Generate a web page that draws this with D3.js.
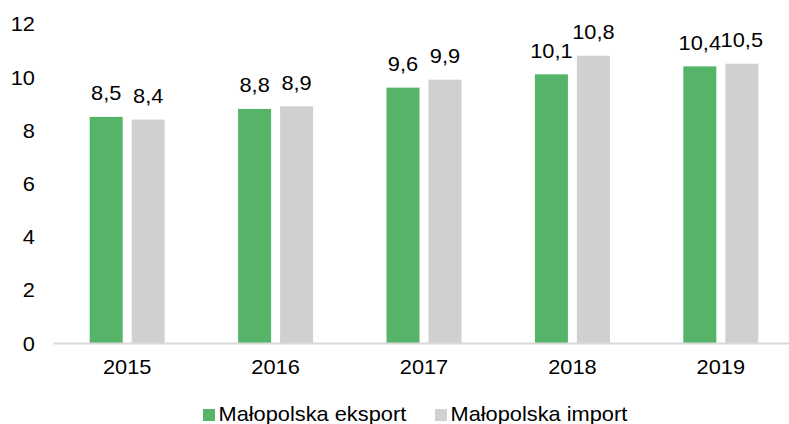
<!DOCTYPE html>
<html>
<head>
<meta charset="utf-8">
<script src="https://cdn.jsdelivr.net/npm/d3@7"></script>
<style>
  html, body { margin: 0; padding: 0; background: #fff; }
  svg { display: block; font-family: Arial, "Liberation Sans", sans-serif; }
</style>
</head>
<body>
<svg id="chart" width="789" height="424"></svg>
<script>
const categories = ["2015", "2016", "2017", "2018", "2019"];
const seriesNames = ["Małopolska eksport", "Małopolska import"];
const eksport = [8.5, 8.8, 9.6, 10.1, 10.4];
const importV = [8.4, 8.9, 9.9, 10.8, 10.5];
const yTicks = [0, 2, 4, 6, 8, 10, 12];
const colors = ["#55B467", "#D0D0D0"];

const FS = 20;
const SX = 1.09;
const FF = "Arial, 'Liberation Sans', sans-serif";
const svg = d3.select("#chart");
const x0 = d3.scaleBand().domain(categories).range([53, 795]).paddingInner(0).paddingOuter(0);
const x1 = d3.scaleBand().domain(seriesNames).range([0, x0.bandwidth()]).paddingInner(0.214).paddingOuter(0.874);
const y = d3.scaleLinear().domain([0, 12]).range([343, 23.8]);

const fmt = v => String(v.toFixed(1)).replace(".", ",");

// Y axis
const yAxis = d3.axisLeft(y).tickValues(yTicks).tickSize(0).tickPadding(0).tickFormat(d => d);
const gy = svg.append("g").attr("transform", "translate(35,0)").call(yAxis);
gy.select(".domain").remove();
gy.attr("font-size", FS).attr("font-family", FF);
gy.selectAll("text").attr("fill", "#000").attr("dy", "0.35em").attr("transform", `scale(${SX},1)`);

// Bars
const data = categories.map((c, i) => ({ cat: c, vals: [eksport[i], importV[i]] }));
const groups = svg.append("g").selectAll("g").data(data).join("g")
  .attr("transform", d => `translate(${x0(d.cat)},0)`);
groups.selectAll("rect").data(d => d.vals.map((v, j) => ({ v, s: seriesNames[j], j })))
  .join("rect")
  .attr("x", d => x1(d.s))
  .attr("width", x1.bandwidth())
  .attr("y", d => y(d.v))
  .attr("height", d => y(0) - y(d.v))
  .attr("fill", d => colors[d.j]);
groups.selectAll("text.lbl").data(d => d.vals.map((v, j) => ({ v, s: seriesNames[j], j })))
  .join("text").attr("class", "lbl")
  .attr("transform", d => `translate(${x1(d.s) + x1.bandwidth() / 2},${y(d.v) - 16.5}) scale(${SX},1)`)
  .attr("text-anchor", "middle")
  .attr("font-size", FS)
  .attr("fill", "#000")
  .text(d => fmt(d.v));

// X axis
const xAxis = d3.axisBottom(x0).tickSize(0).tickPadding(17);
const gx = svg.append("g").attr("transform", `translate(0,${y(0)})`).call(xAxis);
gx.select(".domain").attr("stroke", "#D9D9D9").attr("stroke-width", 2);
gx.attr("font-size", FS).attr("font-family", FF);
gx.selectAll("text").attr("fill", "#000").attr("transform", `scale(${SX},1)`);

// Legend
const legendX = [203, 435];
const leg = svg.append("g").selectAll("g").data(seriesNames).join("g")
  .attr("transform", (d, i) => `translate(${legendX[i]},0)`);
leg.append("rect").attr("x", 0).attr("y", 409).attr("width", 12).attr("height", 12)
  .attr("fill", (d, i) => colors[i]);
leg.append("text").attr("transform", `translate(15.5,421) scale(${SX},1)`)
  .attr("font-size", FS).attr("fill", "#000")
  .text(d => d);
</script>
</body>
</html>
